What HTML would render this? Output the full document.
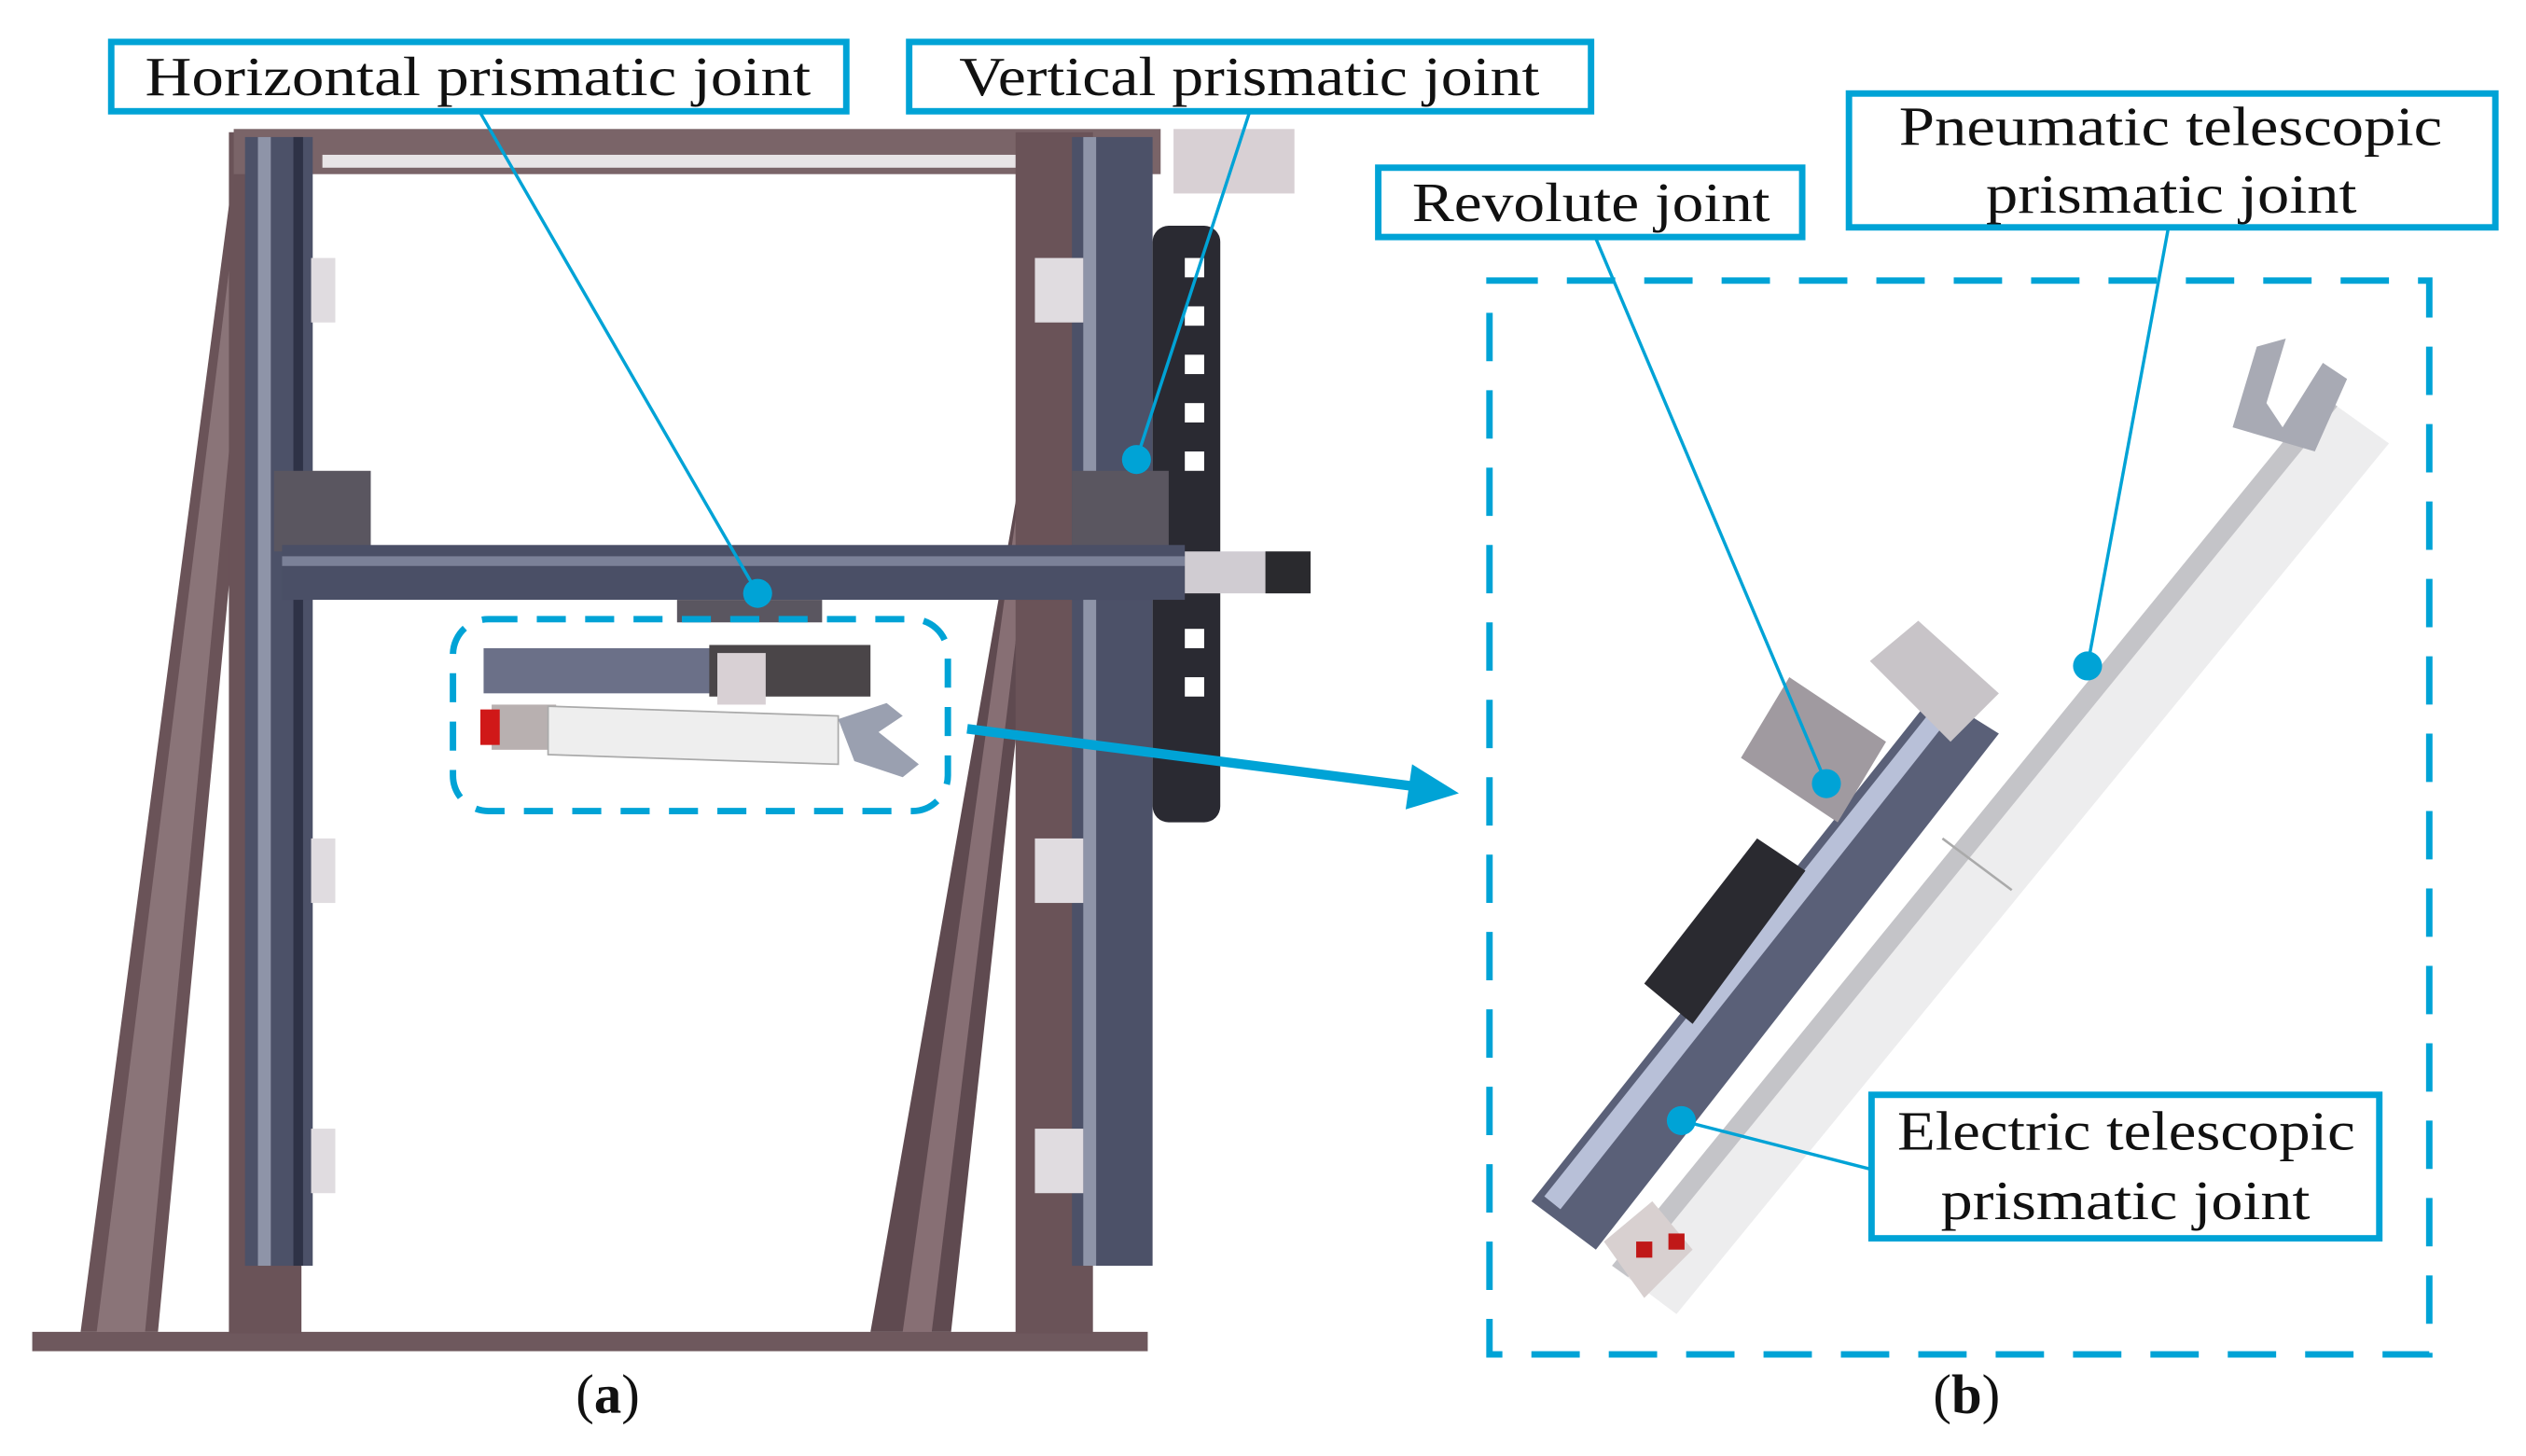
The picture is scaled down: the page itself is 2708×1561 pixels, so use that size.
<!DOCTYPE html>
<html><head><meta charset="utf-8"><style>
html,body{margin:0;padding:0;background:#fff}
svg{display:block}
text{font-family:"Liberation Serif",serif;fill:#111}
</style></head><body>
<svg width="2708" height="1561" viewBox="0 0 1567 903" preserveAspectRatio="none" xmlns="http://www.w3.org/2000/svg">
<rect width="1567" height="903" fill="#fff"/>
<!-- frame (a) -->
<g>
<rect x="20" y="826" width="692" height="12" fill="#6e585d"/>
<polygon points="50,826 98,826 168,90 148,82" fill="#6a5358"/>
<polygon points="60,826 90,826 160,92 152,88" fill="#8a7478"/>
<rect x="142" y="82" width="45" height="745" fill="#6a5358"/>
<rect x="145" y="80" width="575" height="28" fill="#7a6468"/>
<rect x="200" y="96" width="460" height="8" fill="#e8e4e6"/>
<rect x="152" y="85" width="42" height="700" fill="#4c5168"/>
<rect x="160" y="85" width="8" height="700" fill="#8e94a8"/>
<rect x="182" y="85" width="6" height="700" fill="#2e3246"/>
<polygon points="540,826 590,826 655,230 640,90 632,300" fill="#5f4a50"/>
<polygon points="560,826 578,826 648,250 640,250" fill="#876f74"/>
<rect x="630" y="82" width="48" height="745" fill="#6a5358"/>
<rect x="665" y="85" width="50" height="700" fill="#4c5168"/>
<rect x="672" y="85" width="8" height="700" fill="#8e94a8"/>
<rect x="715" y="140" width="42" height="370" rx="10" fill="#2a2a32"/>
<g fill="#fff"><rect x="735" y="160" width="12" height="12"/><rect x="735" y="190" width="12" height="12"/><rect x="735" y="220" width="12" height="12"/><rect x="735" y="250" width="12" height="12"/><rect x="735" y="280" width="12" height="12"/><rect x="735" y="390" width="12" height="12"/><rect x="735" y="420" width="12" height="12"/></g>
<rect x="728" y="80" width="75" height="40" fill="#d8d0d4"/>
<rect x="642" y="160" width="30" height="40" fill="#e0dce0"/>
<rect x="642" y="520" width="30" height="40" fill="#e0dce0"/>
<rect x="642" y="700" width="30" height="40" fill="#e0dce0"/>
<rect x="193" y="160" width="15" height="40" fill="#e0dce0"/>
<rect x="193" y="520" width="15" height="40" fill="#e0dce0"/>
<rect x="193" y="700" width="15" height="40" fill="#e0dce0"/>
<rect x="170" y="292" width="60" height="50" fill="#5a5660"/>
<rect x="665" y="292" width="60" height="50" fill="#5a5660"/>
<rect x="175" y="338" width="560" height="34" fill="#4a4f66"/>
<rect x="175" y="345" width="560" height="6" fill="#7b8198"/>
<rect x="735" y="342" width="78" height="26" fill="#d0ccd2"/>
<rect x="785" y="342" width="28" height="26" fill="#2a2a2e"/>
<rect x="420" y="372" width="90" height="14" fill="#5a5660"/>
<!-- small robot -->
<rect x="300" y="402" width="145" height="28" fill="#6b7088"/>
<rect x="440" y="400" width="100" height="32" fill="#4a4548"/>
<rect x="445" y="405" width="30" height="32" fill="#d8d0d4"/>
<rect x="305" y="437" width="40" height="28" fill="#b8b0b0"/>
<rect x="298" y="440" width="12" height="22" fill="#d01818"/>
<polygon points="340,438 520,444 520,474 340,468" fill="#eeeeee" stroke="#aaa" stroke-width="1"/>
<path d="M520,446 l30,-10 l10,8 l-15,10 l25,20 l-10,8 l-30,-10 z" fill="#9aa0b0"/>
</g>
<!-- robot (b) -->
<g>
<polygon points="1000,785 1440,245 1482,275 1040,815" fill="#ededee"/>
<polygon points="1000,785 1440,245 1450,252 1010,792" fill="#c4c4c8"/>
<line x1="1205" y1="520" x2="1248" y2="552" stroke="#aaa" stroke-width="1.5"/>
<polygon points="950,745 1200,430 1240,455 990,775" fill="#5a6078"/>
<polygon points="958,742 1205,432 1215,438 968,750" fill="#b8c0d8"/>
<polygon points="1020,610 1090,520 1120,540 1050,635" fill="#2a2a30"/>
<polygon points="1080,470 1110,420 1170,460 1140,510" fill="#a09aa0"/>
<polygon points="1160,410 1190,385 1240,430 1210,460" fill="#c8c4c8"/>
<polygon points="995,770 1025,745 1050,775 1020,805" fill="#d8d0d0"/>
<rect x="1015" y="770" width="10" height="10" fill="#c01818"/>
<rect x="1035" y="765" width="10" height="10" fill="#c01818"/>
<path d="M1385,265 l15,-50 l18,-5 l-12,40 l10,15 l25,-40 l15,10 l-20,45 z" fill="#a8aab4"/>
</g>
<!-- dashed boxes -->
<rect x="924" y="174" width="583" height="666" fill="none" stroke="#00a3d6" stroke-width="4" stroke-dasharray="30,18"/>
<rect x="281" y="384" width="307" height="119" rx="22" fill="none" stroke="#00a3d6" stroke-width="4" stroke-dasharray="18,12"/>
<!-- arrow -->
<line x1="600" y1="452" x2="880" y2="488" stroke="#00a3d6" stroke-width="6"/>
<polygon points="905,492 876,474 872,502" fill="#00a3d6"/>
<!-- leader lines -->
<g stroke="#00a3d6" stroke-width="2" fill="none">
<line x1="298" y1="70" x2="470" y2="368"/>
<line x1="775" y1="70" x2="705" y2="285"/>
<line x1="990" y1="148" x2="1133" y2="486"/>
<line x1="1345" y1="142" x2="1295" y2="413"/>
<line x1="1160" y1="725" x2="1043" y2="695"/>
</g>
<g fill="#00a3d6">
<circle cx="470" cy="368" r="9"/><circle cx="705" cy="285" r="9"/><circle cx="1133" cy="486" r="9"/><circle cx="1295" cy="413" r="9"/><circle cx="1043" cy="695" r="9"/>
</g>
<!-- labels -->
<g fill="#fff" stroke="#00a3d6" stroke-width="4">
<rect x="69" y="26" width="456" height="43"/>
<rect x="564" y="26" width="423" height="43"/>
<rect x="855" y="104" width="263" height="43"/>
<rect x="1147" y="58" width="401" height="83"/>
<rect x="1161" y="679" width="315" height="89"/>
</g>
<g font-size="34" lengthAdjust="spacingAndGlyphs">
<text x="90" y="59" textLength="413" lengthAdjust="spacingAndGlyphs">Horizontal prismatic joint</text>
<text x="595" y="59" textLength="360" lengthAdjust="spacingAndGlyphs">Vertical prismatic joint</text>
<text x="876" y="137" textLength="222" lengthAdjust="spacingAndGlyphs">Revolute joint</text>
<text x="1178" y="90" textLength="337" lengthAdjust="spacingAndGlyphs">Pneumatic telescopic</text>
<text x="1232" y="132" textLength="230" lengthAdjust="spacingAndGlyphs">prismatic joint</text>
<text x="1177" y="713" textLength="284" lengthAdjust="spacingAndGlyphs">Electric telescopic</text>
<text x="1204" y="756" textLength="229" lengthAdjust="spacingAndGlyphs">prismatic joint</text>
</g>
<g font-size="34" text-anchor="middle">
<text x="377" y="876">(<tspan font-weight="bold">a</tspan>)</text>
<text x="1220" y="876">(<tspan font-weight="bold">b</tspan>)</text>
</g>
</svg>
</body></html>
